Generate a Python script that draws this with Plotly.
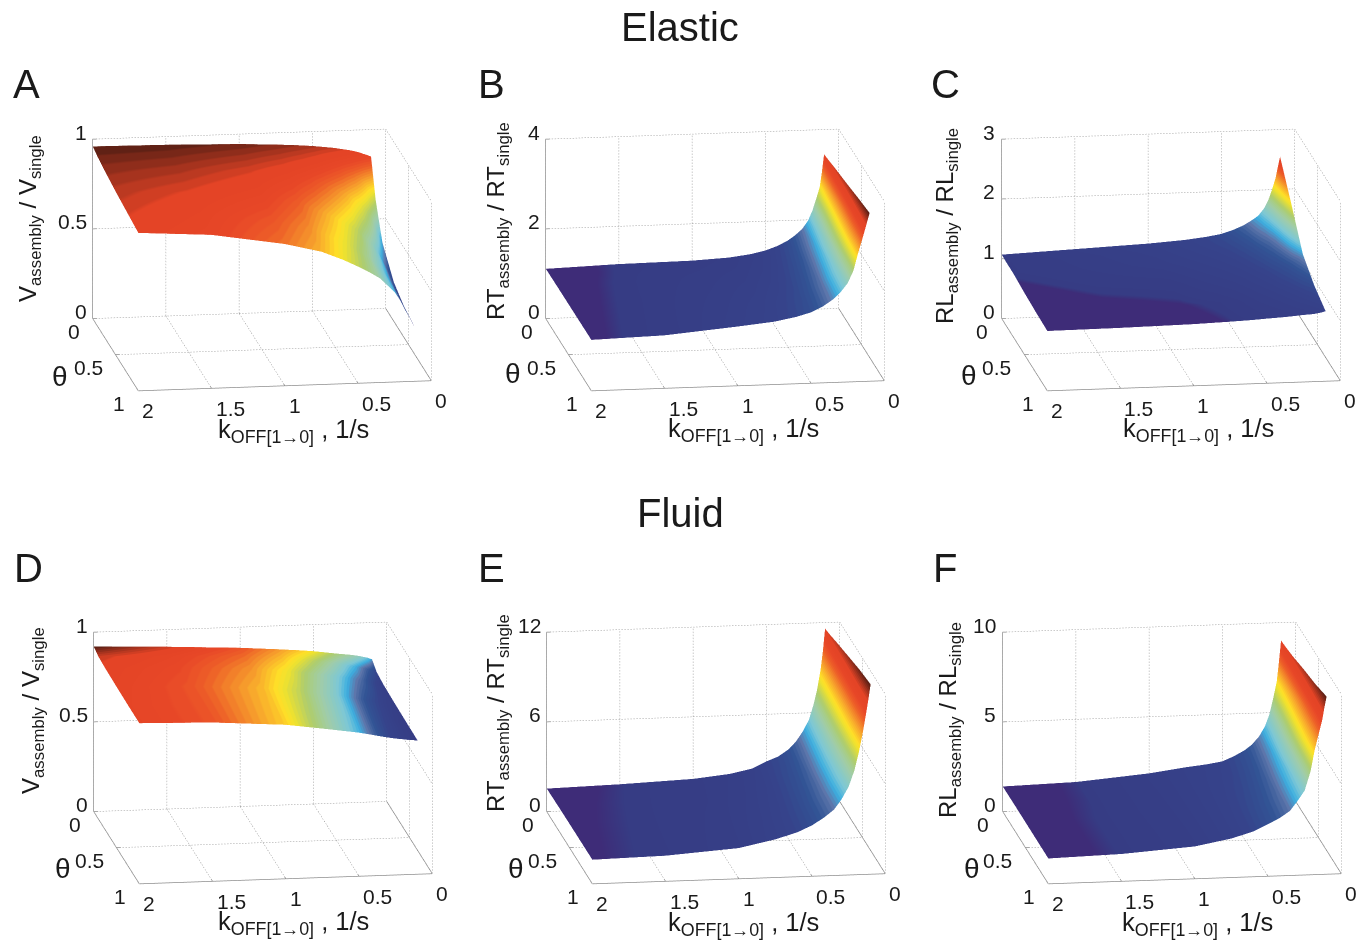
import numpy as np
import plotly.graph_objects as go

K_OFF = [2, 1.5, 1, 0.75, 0.6, 0.5, 0.42, 0.35, 0.3, 0.25, 0.21, 0.18, 0.155, 0.13, 0.115, 0.1]
THETA = [0, 0.1, 0.25, 0.5, 0.75, 1]

# each table: rows follow K_OFF, columns follow THETA
Z_A = [[.96, .945, .93, .91, .895, .88],
       [.955, .94, .92, .89, .87, .855],
       [.945, .925, .895, .86, .82, .79],
       [.935, .91, .87, .81, .77, .74],
       [.927, .895, .84, .76, .715, .69],
       [.92, .88, .81, .72, .68, .65],
       [.912, .86, .78, .685, .64, .615],
       [.905, .84, .75, .65, .60, .58],
       [.897, .82, .72, .61, .56, .54],
       [.89, .80, .69, .57, .52, .50],
       [.882, .775, .655, .525, .475, .45],
       [.875, .75, .62, .48, .43, .40],
       [.867, .725, .575, .44, .39, .365],
       [.86, .70, .53, .40, .35, .33],
       [.855, .675, .50, .375, .325, .305],
       [.85, .65, .47, .35, .30, .28]]
Z_B = [[1.11, 1.115, 1.12, 1.125, 1.13, 1.135],
       [1.16, 1.16, 1.165, 1.17, 1.175, 1.18],
       [1.18, 1.2, 1.23, 1.26, 1.29, 1.32],
       [1.22, 1.24, 1.27, 1.32, 1.37, 1.40],
       [1.28, 1.30, 1.33, 1.39, 1.45, 1.49],
       [1.35, 1.37, 1.41, 1.47, 1.53, 1.58],
       [1.44, 1.47, 1.51, 1.58, 1.65, 1.70],
       [1.55, 1.58, 1.63, 1.71, 1.79, 1.85],
       [1.66, 1.70, 1.76, 1.85, 1.95, 2.0],
       [1.80, 1.84, 1.91, 2.03, 2.13, 2.2],
       [1.98, 2.03, 2.11, 2.27, 2.40, 2.48],
       [2.2, 2.25, 2.35, 2.55, 2.72, 2.85],
       [2.45, 2.53, 2.62, 2.82, 3.0, 3.12],
       [2.72, 2.82, 2.95, 3.12, 3.28, 3.4],
       [3.05, 3.12, 3.24, 3.36, 3.48, 3.58],
       [3.45, 3.48, 3.53, 3.6, 3.68, 3.75]]
Z_C = [[1.07, 1.06, 1.06, 1.03, 1.01, 1.0],
       [1.12, 1.10, 1.09, 1.06, 1.03, 1.01],
       [1.17, 1.15, 1.13, 1.07, 1.045, 1.03],
       [1.21, 1.20, 1.17, 1.12, 1.06, 1.05],
       [1.25, 1.235, 1.20, 1.145, 1.09, 1.065],
       [1.29, 1.27, 1.23, 1.17, 1.12, 1.08],
       [1.35, 1.32, 1.27, 1.20, 1.14, 1.09],
       [1.42, 1.38, 1.32, 1.23, 1.16, 1.10],
       [1.49, 1.45, 1.37, 1.265, 1.18, 1.11],
       [1.57, 1.52, 1.42, 1.30, 1.20, 1.12],
       [1.69, 1.61, 1.49, 1.335, 1.22, 1.125],
       [1.83, 1.72, 1.58, 1.37, 1.24, 1.13],
       [2.0, 1.87, 1.69, 1.41, 1.255, 1.14],
       [2.2, 2.05, 1.82, 1.45, 1.27, 1.15],
       [2.38, 2.2, 1.94, 1.49, 1.285, 1.16],
       [2.55, 2.35, 2.05, 1.52, 1.30, 1.17]]
Z_D = [[.92, .905, .90, .897, .895, .895],
       [.905, .895, .89, .885, .885, .885],
       [.885, .878, .87, .862, .86, .858],
       [.87, .862, .85, .84, .835, .83],
       [.86, .847, .832, .822, .817, .812],
       [.852, .835, .82, .81, .805, .80],
       [.843, .825, .81, .797, .792, .787],
       [.835, .815, .80, .785, .78, .775],
       [.83, .807, .792, .777, .772, .767],
       [.825, .80, .785, .77, .765, .76],
       [.82, .792, .777, .765, .76, .756],
       [.815, .785, .77, .76, .755, .752],
       [.81, .78, .765, .757, .752, .75],
       [.805, .775, .76, .755, .75, .748],
       [.80, .77, .757, .752, .748, .746],
       [.795, .765, .755, .75, .747, .745]]
Z_E = [[1.54, 1.55, 1.57, 1.59, 1.60, 1.61],
       [1.66, 1.67, 1.68, 1.69, 1.70, 1.71],
       [1.85, 1.86, 1.89, 1.95, 2.0, 2.05],
       [2.1, 2.13, 2.2, 2.33, 2.45, 2.55],
       [2.4, 2.45, 2.55, 2.72, 2.87, 2.97],
       [2.85, 2.9, 3.0, 3.15, 3.3, 3.4],
       [3.15, 3.22, 3.37, 3.58, 3.78, 3.88],
       [3.6, 3.7, 3.85, 4.1, 4.3, 4.4],
       [4.1, 4.22, 4.42, 4.72, 4.95, 5.05],
       [4.8, 4.95, 5.15, 5.5, 5.75, 5.9],
       [5.55, 5.72, 5.98, 6.42, 6.75, 7.0],
       [6.5, 6.7, 7.0, 7.5, 7.9, 8.2],
       [7.5, 7.7, 8.05, 8.6, 9.1, 9.4],
       [8.9, 9.1, 9.5, 10.0, 10.5, 10.8],
       [10.1, 10.3, 10.6, 11.0, 11.5, 11.7],
       [11.6, 11.7, 11.9, 12.2, 12.5, 12.7]]
Z_F = [[1.40, 1.40, 1.41, 1.41, 1.41, 1.41],
       [1.51, 1.51, 1.51, 1.52, 1.52, 1.52],
       [1.85, 1.85, 1.84, 1.83, 1.81, 1.80],
       [2.12, 2.13, 2.14, 2.15, 2.16, 2.17],
       [2.25, 2.27, 2.32, 2.4, 2.47, 2.52],
       [2.38, 2.42, 2.5, 2.65, 2.8, 2.9],
       [2.65, 2.7, 2.78, 2.95, 3.12, 3.22],
       [2.95, 3.0, 3.1, 3.3, 3.47, 3.6],
       [3.25, 3.33, 3.47, 3.72, 3.95, 4.12],
       [3.7, 3.8, 3.95, 4.25, 4.5, 4.7],
       [4.25, 4.38, 4.62, 5.05, 5.4, 5.75],
       [4.9, 5.05, 5.4, 6.0, 6.6, 7.0],
       [5.75, 5.95, 6.25, 6.85, 7.35, 7.8],
       [6.7, 6.9, 7.2, 7.7, 8.2, 8.6],
       [7.8, 8.0, 8.25, 8.6, 8.95, 9.3],
       [9.0, 9.05, 9.15, 9.4, 9.6, 9.9]]

K_TICKS = [2, 1.5, 1, 0.5, 0]
THETA_TICKS = [0, 0.5, 1]
Z_TICKS = {"A": [0, .5, 1], "B": [0, 2, 4], "C": [0, 1, 2, 3],
           "D": [0, .5, 1], "E": [0, 6, 12], "F": [0, 5, 10]}
Z_TICK_TEXT = {"A": ["0", "0.5", "1"], "B": ["0", "2", "4"], "C": ["0", "1", "2", "3"],
               "D": ["0", "0.5", "1"], "E": ["0", "6", "12"], "F": ["0", "5", "10"]}
C_RANGE = {"A": (.28, .96), "B": (1.15, 3.75), "C": (1.05, 2.7),
           "D": (.745, .92), "E": (1.65, 12.7), "F": (1.5, 9.9)}
SURF = {"A": Z_A, "B": Z_B, "C": Z_C, "D": Z_D, "E": Z_E, "F": Z_F}
Z_LABEL = {"A": "V<sub>assembly</sub> / V<sub>single</sub>",
           "B": "RT<sub>assembly</sub> / RT<sub>single</sub>",
           "C": "RL<sub>assembly</sub> / RL<sub>single</sub>",
           "D": "V<sub>assembly</sub> / V<sub>single</sub>",
           "E": "RT<sub>assembly</sub> / RT<sub>single</sub>",
           "F": "RL<sub>assembly</sub> / RL<sub>single</sub>"}
K_LABEL = "k<sub>OFF[1→0]</sub> , 1/s"

# colormap anchors
ANCHORS = [(0, (55, 60, 132)), (.12, (54, 68, 140)), (.20, (50, 85, 150)), (.26, (95, 120, 172)),
           (.31, (60, 175, 225)), (.36, (125, 200, 215)), (.45, (160, 205, 170)), (.53, (175, 205, 110)),
           (.60, (235, 225, 50)), (.63, (255, 225, 40)), (.70, (248, 165, 45)), (.78, (238, 95, 40)),
           (.83, (232, 72, 40)), (.90, (228, 68, 38)), (.95, (160, 50, 30)), (1, (85, 30, 20))]
INDIGO = "rgb(62,44,120)"
STEP = 0.008


def colorscale(n=64):
    fr = [a[0] for a in ANCHORS]
    out = [[0, INDIGO], [STEP, INDIGO]]
    for i in range(n):
        lo, hi = i / n, (i + 1) / n
        mid = (lo + hi) / 2
        c = [int(np.interp(mid, fr, [a[1][j] for a in ANCHORS])) for j in range(3)]
        col = f"rgb({c[0]},{c[1]},{c[2]})"
        out.append([max(lo, STEP), col])
        out.append([hi, col])
    return out


W, H = 1367, 944
PW, PH = 390, 330
EXT = 1.12
EYE = (0.143, 0.968, 0.205)
DIST = 1.8
SCALE = 1.795
ASPECT = dict(x=1.0 * SCALE, y=1.054 * SCALE, z=0.623 * EXT * SCALE)
CENTER = dict(x=0, y=0, z=-0.055)

PANELS = {  # box-centre pixel position
    "A": (262, 258), "B": (715, 258), "C": (1170.5, 258),
    "D": (263, 751), "E": (716, 751), "F": (1171.5, 751)}
K_TITLE = {"A": (293, 431), "B": (743, 430), "C": (1198, 430), "D": (293, 923), "E": (743, 924), "F": (1197, 924)}
TH_TITLE = {"A": (60, 376), "B": (513, 374), "C": (969, 375), "D": (63, 868), "E": (516, 868), "F": (972, 868)}
Z_TITLE = {"A": (29, 219), "B": (497, 221), "C": (946, 226), "D": (32, 711), "E": (497, 713), "F": (949, 720)}
LETTER = {"A": (26, 84), "B": (492, 84), "C": (945, 84), "D": (28, 568), "E": (491, 568), "F": (945, 568)}
FONT = "Liberation Sans, Arial, sans-serif"
GRID = "rgb(150,150,150)"
AXIS = "rgb(140,140,140)"


def segs(pairs):
    xs, ys, zs = [], [], []
    for a, b in pairs:
        xs += [a[0], b[0], None]
        ys += [a[1], b[1], None]
        zs += [a[2], b[2], None]
    return xs, ys, zs


def dotted(a, b, n):
    """split a grid line into n short on/off pieces"""
    a, b = np.array(a, float), np.array(b, float)
    out = []
    for j in range(n):
        out.append((tuple(np.round(a + (b - a) * j / n, 4)), tuple(np.round(a + (b - a) * (j + .5) / n, 4))))
    return out


fig = go.Figure()
annots = []


def paper(px, py, text, size, **kw):
    annots.append(dict(x=px / W, y=1 - py / H, xref="paper", yref="paper", text=text, showarrow=False,
                       xanchor="center", yanchor="middle", font=dict(family=FONT, size=size, color="#1a1a1a"), **kw))


for i, name in enumerate("ABCDEF"):
    sc = "scene" if i == 0 else f"scene{i + 1}"
    zt = Z_TICKS[name]
    zm = zt[-1]
    cmin, cmax = C_RANGE[name]
    cmin = (cmin - STEP * cmax) / (1 - STEP)
    fig.add_surface(x=K_OFF, y=THETA, z=np.array(SURF[name]).T, scene=sc, colorscale=colorscale(), cmin=cmin, cmax=cmax,
                    showscale=False, hoverinfo="skip",
                    lighting=dict(ambient=1, diffuse=0, specular=0, roughness=1, fresnel=0))
    grid = []
    for k in K_TICKS:
        grid += dotted((k, 0, 0), (k, 1, 0), 30)
        grid += dotted((k, 0, 0), (k, 0, zm), 60)
    for t in THETA_TICKS:
        grid += dotted((2, t, 0), (0, t, 0), 98)
        grid += dotted((0, t, 0), (0, t, zm), 60)
    for z in zt:
        grid += dotted((2, 0, z), (0, 0, z), 98)
        grid += dotted((0, 0, z), (0, 1, z), 30)
    gx, gy, gz = segs(grid)
    fig.add_scatter3d(x=gx, y=gy, z=gz, mode="lines", scene=sc, hoverinfo="skip", showlegend=False,
                      line=dict(color=GRID, width=1))
    ax = [((2, 0, 0), (2, 0, zm)), ((2, 0, 0), (2, 1, 0)), ((2, 1, 0), (0, 1, 0)), ((0, 0, 0), (0, 1, 0))]
    for k in K_TICKS:
        ax.append(((k, 1, 0), (k, 0.97, 0)))
    for t in THETA_TICKS:
        ax.append(((2, t, 0), (1.97, t, 0)))
    for z in zt:
        ax.append(((2, 0, z), (1.97, 0, z)))
    ax_x, ax_y, ax_z = segs(ax)
    fig.add_scatter3d(x=ax_x, y=ax_y, z=ax_z, mode="lines", scene=sc, hoverinfo="skip", showlegend=False,
                      line=dict(color=AXIS, width=1.5))
    tf = dict(family=FONT, size=21, color="#1a1a1a")
    sa = []
    for k in K_TICKS:
        sa.append(dict(x=k, y=1, z=0, text=f"{k:g}", showarrow=False, xanchor="left", yanchor="middle",
                       xshift=2, yshift=-20, font=tf))
    for t in THETA_TICKS:
        sa.append(dict(x=2, y=t, z=0, text=f"{t:g}", showarrow=False, xanchor="right", yanchor="middle",
                       xshift=-11, yshift=-13, font=tf))
    for z, s in zip(zt, Z_TICK_TEXT[name]):
        sa.append(dict(x=2, y=0, z=z, text=s, showarrow=False, xanchor="right", yanchor="middle",
                       xshift=-4, yshift=7, font=tf))
    cx, cy = PANELS[name]
    fig.update_layout({sc: dict(
        domain=dict(x=[(cx - PW / 2) / W, (cx + PW / 2) / W], y=[1 - (cy + PH / 2) / H, 1 - (cy - PH / 2) / H]),
        xaxis=dict(visible=False, range=[0, 2]),
        yaxis=dict(visible=False, range=[0, 1]),
        zaxis=dict(visible=False, range=[0, zm * EXT]),
        aspectmode="manual", aspectratio=ASPECT,
        camera=dict(projection=dict(type="orthographic"), up=dict(x=0, y=0, z=1), center=CENTER,
                    eye=dict(x=EYE[0] * DIST, y=EYE[1] * DIST, z=EYE[2] * DIST)),
        annotations=sa, bgcolor="white")})
    paper(*K_TITLE[name], K_LABEL, 25.5)
    paper(*TH_TITLE[name], "θ", 28)
    paper(*Z_TITLE[name], Z_LABEL[name], 24, textangle=-90)
    paper(*LETTER[name], name, 40)

paper(680, 27, "Elastic", 40)
paper(680, 513, "Fluid", 40)

fig.update_layout(width=W, height=H, autosize=False, margin=dict(l=0, r=0, t=0, b=0),
                  paper_bgcolor="white", showlegend=False, annotations=annots)
fig.write_html("out.html", config=dict(displayModeBar=False),
               post_script="document.body.style.margin='0';document.body.style.overflow='hidden';")
